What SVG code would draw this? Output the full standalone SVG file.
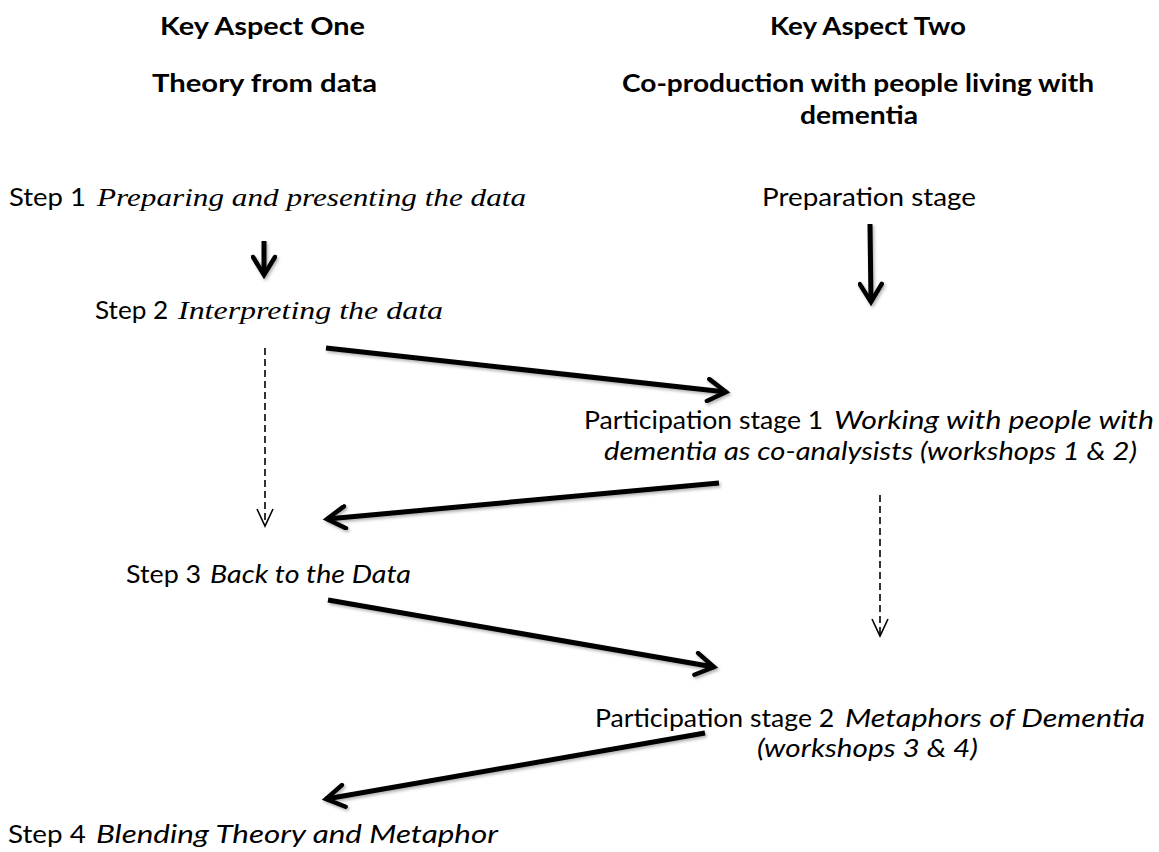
<svg xmlns="http://www.w3.org/2000/svg" width="1159" height="852" viewBox="0 0 1159 852">
<defs>
<style>
text{font-family:Lato,"Liberation Sans",sans-serif;font-size:25px;fill:#000}
.hd{font-weight:bold;font-size:25px}
.it{font-style:italic}
.ser{font-family:"Liberation Serif",serif;font-style:italic}
.solid{stroke:#000;stroke-width:5;fill:none;marker-end:url(#arrow);filter:url(#sh)}
.dash{stroke:#000;stroke-width:1.6;stroke-dasharray:7 4;fill:none;marker-end:url(#arrowThin)}
</style>
<filter id="sh" filterUnits="userSpaceOnUse" x="0" y="0" width="1159" height="852">
<feDropShadow dx="1.5" dy="2" stdDeviation="1.5" flood-color="#000" flood-opacity="0.3"/>
</filter>
<marker id="arrow" markerUnits="userSpaceOnUse" viewBox="0 0 30 26" markerWidth="30" markerHeight="26" refX="22" refY="13" orient="auto">
<path d="M4,2 L22,13 L4,24" fill="none" stroke="#000" stroke-width="4.5" stroke-linecap="round"/>
</marker>
<marker id="arrowThin" markerUnits="userSpaceOnUse" viewBox="0 0 22 20" markerWidth="22" markerHeight="20" refX="18" refY="10" orient="auto">
<path d="M1,2 L18,10 L1,18" fill="none" stroke="#000" stroke-width="1.6"/>
</marker>
</defs>
<rect width="1159" height="852" fill="#fff"/>

<g id="header-one">
<text class="hd" x="160" y="35" textLength="205" lengthAdjust="spacingAndGlyphs">Key Aspect One</text>
<text class="hd" x="152" y="92" textLength="225" lengthAdjust="spacingAndGlyphs">Theory from data</text>
</g>
<g id="header-two">
<text class="hd" x="770" y="35" textLength="196" lengthAdjust="spacingAndGlyphs">Key Aspect Two</text>
<text class="hd" x="622" y="92" textLength="472" lengthAdjust="spacingAndGlyphs">Co-production with people living with</text>
<text class="hd" x="800" y="124" textLength="118" lengthAdjust="spacingAndGlyphs">dementia</text>
</g>

<g id="step1">
<text y="206"><tspan x="9" textLength="84" lengthAdjust="spacingAndGlyphs">Step 1 </tspan><tspan class="ser" x="97" textLength="429" lengthAdjust="spacingAndGlyphs">Preparing and presenting the data</tspan></text>
</g>
<g id="preparation">
<text x="762" y="206" textLength="214" lengthAdjust="spacingAndGlyphs">Preparation stage</text>
</g>
<g id="step2">
<text y="319"><tspan x="95" textLength="80" lengthAdjust="spacingAndGlyphs">Step 2 </tspan><tspan class="ser" x="178" textLength="265" lengthAdjust="spacingAndGlyphs">Interpreting the data</tspan></text>
</g>
<g id="participation1">
<text y="429"><tspan x="584" textLength="246" lengthAdjust="spacingAndGlyphs">Participation stage 1 </tspan><tspan class="it" x="834" textLength="320" lengthAdjust="spacingAndGlyphs">Working with people with</tspan></text>
<text class="it" x="604" y="460" textLength="533" lengthAdjust="spacingAndGlyphs">dementia as co-analysists (workshops 1 &amp; 2)</text>
</g>
<g id="step3">
<text y="583"><tspan x="126" textLength="82" lengthAdjust="spacingAndGlyphs">Step 3 </tspan><tspan class="it" x="210" textLength="201" lengthAdjust="spacingAndGlyphs">Back to the Data</tspan></text>
</g>
<g id="participation2">
<text y="727"><tspan x="595" textLength="246" lengthAdjust="spacingAndGlyphs">Participation stage 2 </tspan><tspan class="it" x="845" textLength="300" lengthAdjust="spacingAndGlyphs">Metaphors of Dementia</tspan></text>
<text class="it" x="757" y="757" textLength="221" lengthAdjust="spacingAndGlyphs">(workshops 3 &amp; 4)</text>
</g>
<g id="step4">
<text y="843"><tspan x="8" textLength="85" lengthAdjust="spacingAndGlyphs">Step 4 </tspan><tspan class="it" x="96" textLength="402" lengthAdjust="spacingAndGlyphs">Blending Theory and Metaphor</tspan></text>
</g>

<g id="connectors">
<line class="solid" x1="264" y1="241" x2="264" y2="275"/>
<line class="solid" x1="870" y1="224" x2="871" y2="302"/>
<line class="dash" x1="265" y1="348" x2="265" y2="526"/>
<line class="solid" x1="326" y1="348" x2="726" y2="392"/>
<line class="solid" x1="719" y1="483" x2="327" y2="519"/>
<line class="dash" x1="880" y1="495" x2="880" y2="636"/>
<line class="solid" x1="328" y1="600" x2="714" y2="667"/>
<line class="solid" x1="705" y1="733" x2="326" y2="799"/>
</g>
</svg>
